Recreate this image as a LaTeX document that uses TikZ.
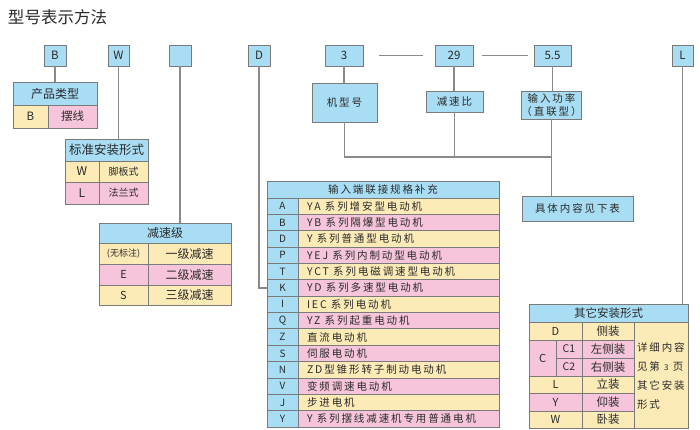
\documentclass[tikz,border=0pt]{standalone}
\usepackage{fontspec}
\setmainfont{Noto Sans CJK SC}
\newfontfamily\spaced[LetterSpace=18]{Noto Sans CJK SC}
\usetikzlibrary{calc}
\definecolor{cblue}{HTML}{A8DDF4}
\definecolor{cyel}{HTML}{FDEBB7}
\definecolor{cpink}{HTML}{F7C5DB}
\definecolor{cline}{HTML}{8A8A8A}
\definecolor{cbord}{HTML}{7A7A7A}
\definecolor{ctext}{HTML}{2A2A2A}
\newcommand\fsz[1]{\fontsize{#1}{#1}\selectfont}
% \cellbox{name}{x1}{y1}{x2}{y2}{fill}{text}
\newcommand\cellbox[7]{\node[cellb, fill=#6, minimum width=#4-#2, minimum height=#5-#3] (#1) at ({(#2+#4)/2},{(#3+#5)/2}) {#7};}
\tikzset{
  cellb/.style={draw=cbord, line width=0.8pt, inner sep=0pt, outer sep=0pt, text=ctext, align=center},
  txt/.style={inner sep=0pt, outer sep=0pt, text=ctext, align=left},
  conn/.style={draw=cline, line width=1.1pt},
}
\begin{document}
\begin{tikzpicture}[x=1pt,y=-1pt]
\useasboundingbox (0,0) rectangle (700,430);
\fill[white] (0,0) rectangle (700,430);
% title
\node[txt, anchor=west] (title) at (8,17) {\fsz{16.5}型号表示方法};
% top boxes
\cellbox{bB}{44}{45}{66}{66}{cblue}{\fsz{11.5}B}
\cellbox{bW}{108}{45}{129}{66}{cblue}{\fsz{11.5}W}
\cellbox{bE}{169}{45}{191}{66}{cblue}{}
\cellbox{bD}{248}{45}{270}{66}{cblue}{\fsz{11.5}D}
\cellbox{b3}{325}{45}{363}{66}{cblue}{\fsz{11.5}3}
\cellbox{b29}{435}{45}{473}{66}{cblue}{\fsz{11.5}29}
\cellbox{b55}{534}{45}{571}{66}{cblue}{\fsz{11.5}5.5}
\cellbox{bL}{672}{45}{693}{66}{cblue}{\fsz{11.5}L}
\draw[conn, shorten <=16pt, shorten >=12pt] (b3) -- (b29);
\draw[conn, shorten <=9pt, shorten >=6pt] (b29) -- (b55);
% product type
\cellbox{pt}{13}{82}{97}{105}{cblue}{\fsz{12}产品类型}
\cellbox{ptB}{13}{105}{48}{128}{cyel}{\fsz{11.5}B}
\cellbox{ptX}{48}{105}{97}{128}{cpink}{\fsz{11.5}摆线}
\draw[conn] (bB.south) -- (pt.north);
% standard mounting
\cellbox{sm}{65}{139}{148}{161}{cblue}{\fsz{12.5}标准安装形式}
\cellbox{smW}{65}{161}{99}{182}{cyel}{\fsz{12}W}
\cellbox{smWt}{99}{161}{148}{182}{cyel}{\fsz{10}脚板式}
\cellbox{smL}{65}{182}{99}{204}{cpink}{\fsz{12}L}
\cellbox{smLt}{99}{182}{148}{204}{cpink}{\fsz{10}法兰式}
\draw[conn] (bW.south) -- (bW.south |- sm.north);
% reduction stages
\cellbox{rs}{99}{223}{231}{243}{cblue}{\fsz{12}减速级}
\cellbox{rs1}{99}{243}{148}{264}{cyel}{\fsz{9}(无标注)}
\cellbox{rs1t}{148}{243}{231}{264}{cyel}{\fsz{12}一级减速}
\cellbox{rs2}{99}{264}{148}{285}{cpink}{\fsz{11}E}
\cellbox{rs2t}{148}{264}{231}{285}{cpink}{\fsz{12}二级减速}
\cellbox{rs3}{99}{285}{148}{305}{cyel}{\fsz{11}S}
\cellbox{rs3t}{148}{285}{231}{305}{cyel}{\fsz{12}三级减速}
\draw[conn] (bE.south) -- (bE.south |- rs.north);
% model, ratio, power
\cellbox{jx}{312}{83}{377}{122}{cblue}{\fsz{10.5}\spaced 机型号}
\cellbox{jsb}{426}{91}{483}{112}{cblue}{\fsz{10.5}\spaced 减速比}
\node[cellb, fill=cblue, minimum width=57, minimum height=28, font={\fontsize{10.5}{13}\selectfont\spaced}] (srgl) at (551.5,105) {输入功率\\（直联型）};
\cellbox{jt}{522}{196}{633}{221}{cblue}{\fsz{10.5}\spaced 具体内容见下表}
\draw[conn] (b3.south) -- (b3.south |- jx.north);
\draw[conn] (b29.south) -- (b29.south |- jsb.north);
\draw[conn] (b55.south) -- (b55.south |- srgl.north);
\coordinate (lvl) at (0,157);
\coordinate (jn) at (srgl.south |- lvl);
\draw[conn] (jx.south) |- (jn);
\draw[conn] (jsb.south) -- (jsb.south |- lvl);
\draw[conn] (srgl.south) -- (srgl.south |- jt.north);
% input connection table
\cellbox{mh}{267}{181}{499}{198}{cblue}{\fsz{10.5}\spaced 输入端联接规格补充}
\foreach \c/\col/\t [count=\i from 0] in {
  A/cyel/{YA 系列增安型电动机},
  B/cpink/{YB 系列隔爆型电动机},
  D/cyel/{Y 系列普通型电动机},
  P/cpink/{YEJ 系列内制动型电动机},
  T/cyel/{YCT 系列电磁调速型电动机},
  K/cpink/{YD 系列多速型电动机},
  I/cyel/{IEC 系列电动机},
  Q/cpink/{YZ 系列起重电动机},
  Z/cyel/{直流电动机},
  S/cpink/{伺服电动机},
  N/cyel/{ZD型锥形转子制动电动机},
  V/cpink/{变频调速电动机},
  J/cyel/{步进电机},
  Y/cpink/{Y 系列摆线减速机专用普通电机}} {
  \pgfmathsetmacro\ya{198+16.357*\i}
  \pgfmathsetmacro\yb{198+16.357*(\i+1)}
  \cellbox{mc\i}{267}{\ya}{298}{\yb}{cblue}{\fsz{10}\c}
  \cellbox{mt\i}{298}{\ya}{499}{\yb}{\col}{}
  \node[txt, anchor=west, xshift=9pt] (mtt\i) at (mt\i.west) {\fsz{10.5}\spaced \t};
}
\draw[conn] (bD.south) |- (mc5.west);
% other mounting table
\cellbox{oh}{529}{304}{688}{322}{cblue}{\fsz{11.5}其它安装形式}
\cellbox{oD}{529}{322}{582}{340}{cyel}{\fsz{11}D}
\cellbox{oDt}{582}{322}{634}{340}{cyel}{\fsz{11.5}侧装}
\cellbox{oC}{529}{340}{556}{376}{cpink}{\fsz{11}C}
\cellbox{oC1}{556}{340}{582}{358}{cpink}{\fsz{10.5}C1}
\cellbox{oC1t}{582}{340}{634}{358}{cpink}{\fsz{11.5}左侧装}
\cellbox{oC2}{556}{358}{582}{376}{cpink}{\fsz{10.5}C2}
\cellbox{oC2t}{582}{358}{634}{376}{cpink}{\fsz{11.5}右侧装}
\cellbox{oL}{529}{376}{582}{393}{cyel}{\fsz{11}L}
\cellbox{oLt}{582}{376}{634}{393}{cyel}{\fsz{11.5}立装}
\cellbox{oY}{529}{393}{582}{411}{cpink}{\fsz{11}Y}
\cellbox{oYt}{582}{393}{634}{411}{cpink}{\fsz{11.5}仰装}
\cellbox{oW}{529}{411}{582}{428}{cyel}{\fsz{11}W}
\cellbox{oWt}{582}{411}{634}{428}{cyel}{\fsz{11.5}卧装}
\cellbox{od}{634}{322}{688}{428}{cyel}{}
\node[txt, anchor=west, font={\fontsize{10.5}{19}\selectfont\spaced}] (odt) at (637,376.5) {详细内容\\见第 {\fontsize{8}{19}\selectfont 3} 页\\其它安装\\形式};
\draw[conn] (bL.south) -- (bL.south |- oh.north);
\end{tikzpicture}
\end{document}
